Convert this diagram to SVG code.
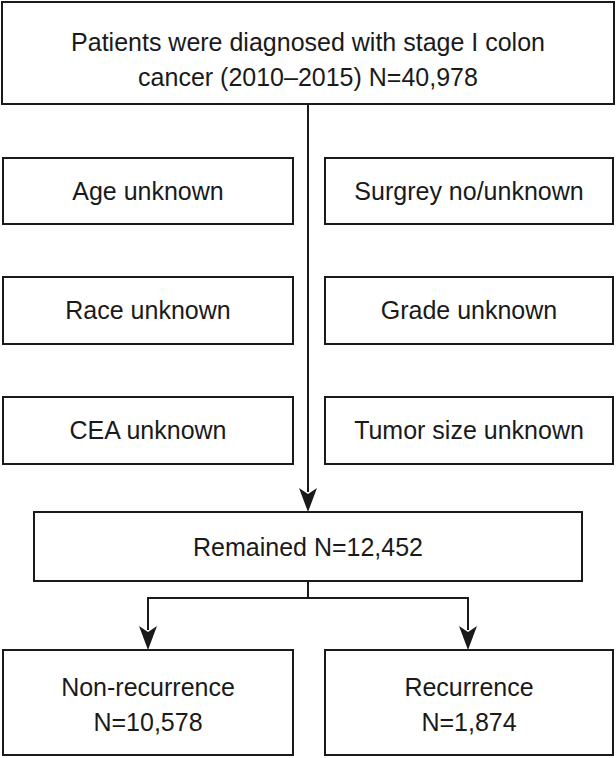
<svg xmlns="http://www.w3.org/2000/svg" width="616" height="758" viewBox="0 0 616 758">
  <style>
    .box { fill: #ffffff; stroke: #1a1a1a; stroke-width: 2; }
    .label { font-family: "Liberation Sans", Arial, sans-serif; font-size: 25px; fill: #1a1a1a; text-anchor: middle; dominant-baseline: central; }
    .wire { fill: none; stroke: #1a1a1a; stroke-width: 2; }
    .head { fill: #1a1a1a; }
  </style>
  <rect width="616" height="758" fill="#ffffff"/>

  <g id="connectors">
    <line class="wire" x1="308" y1="104" x2="308" y2="492"/>
    <path class="head" d="M299,488 L308,512 L317,488 L308,494 Z"/>
    <line class="wire" x1="308" y1="581" x2="308" y2="598"/>
    <polyline class="wire" points="148,630 148,598 468,598 468,630"/>
    <path class="head" d="M139,626 L148,650 L157,626 L148,632 Z"/>
    <path class="head" d="M459,626 L468,650 L477,626 L468,632 Z"/>
  </g>

  <g id="start">
    <rect class="box" x="2" y="2" width="612" height="102"/>
    <text class="label" x="308" y="42">Patients were diagnosed with stage I colon</text>
    <text class="label" x="308" y="77">cancer (2010–2015) N=40,978</text>
  </g>

  <g id="age">
    <rect class="box" x="3" y="158" width="290" height="66"/>
    <text class="label" x="148" y="191">Age unknown</text>
  </g>
  <g id="surgery">
    <rect class="box" x="325" y="158" width="288" height="66"/>
    <text class="label" x="469" y="191">Surgrey no/unknown</text>
  </g>
  <g id="race">
    <rect class="box" x="3" y="277" width="290" height="67"/>
    <text class="label" x="148" y="310">Race unknown</text>
  </g>
  <g id="grade">
    <rect class="box" x="325" y="277" width="288" height="67"/>
    <text class="label" x="469" y="310">Grade unknown</text>
  </g>
  <g id="cea">
    <rect class="box" x="3" y="397" width="290" height="67"/>
    <text class="label" x="148" y="430">CEA unknown</text>
  </g>
  <g id="tumor">
    <rect class="box" x="325" y="397" width="288" height="67"/>
    <text class="label" x="469" y="430">Tumor size unknown</text>
  </g>

  <g id="remained">
    <rect class="box" x="34" y="512" width="548" height="69"/>
    <text class="label" x="308" y="547">Remained N=12,452</text>
  </g>

  <g id="non-recurrence">
    <rect class="box" x="3" y="650" width="290" height="105"/>
    <text class="label" x="148" y="687">Non-recurrence</text>
    <text class="label" x="148" y="722">N=10,578</text>
  </g>
  <g id="recurrence">
    <rect class="box" x="325" y="650" width="288" height="105"/>
    <text class="label" x="469" y="687">Recurrence</text>
    <text class="label" x="469" y="722">N=1,874</text>
  </g>
</svg>
